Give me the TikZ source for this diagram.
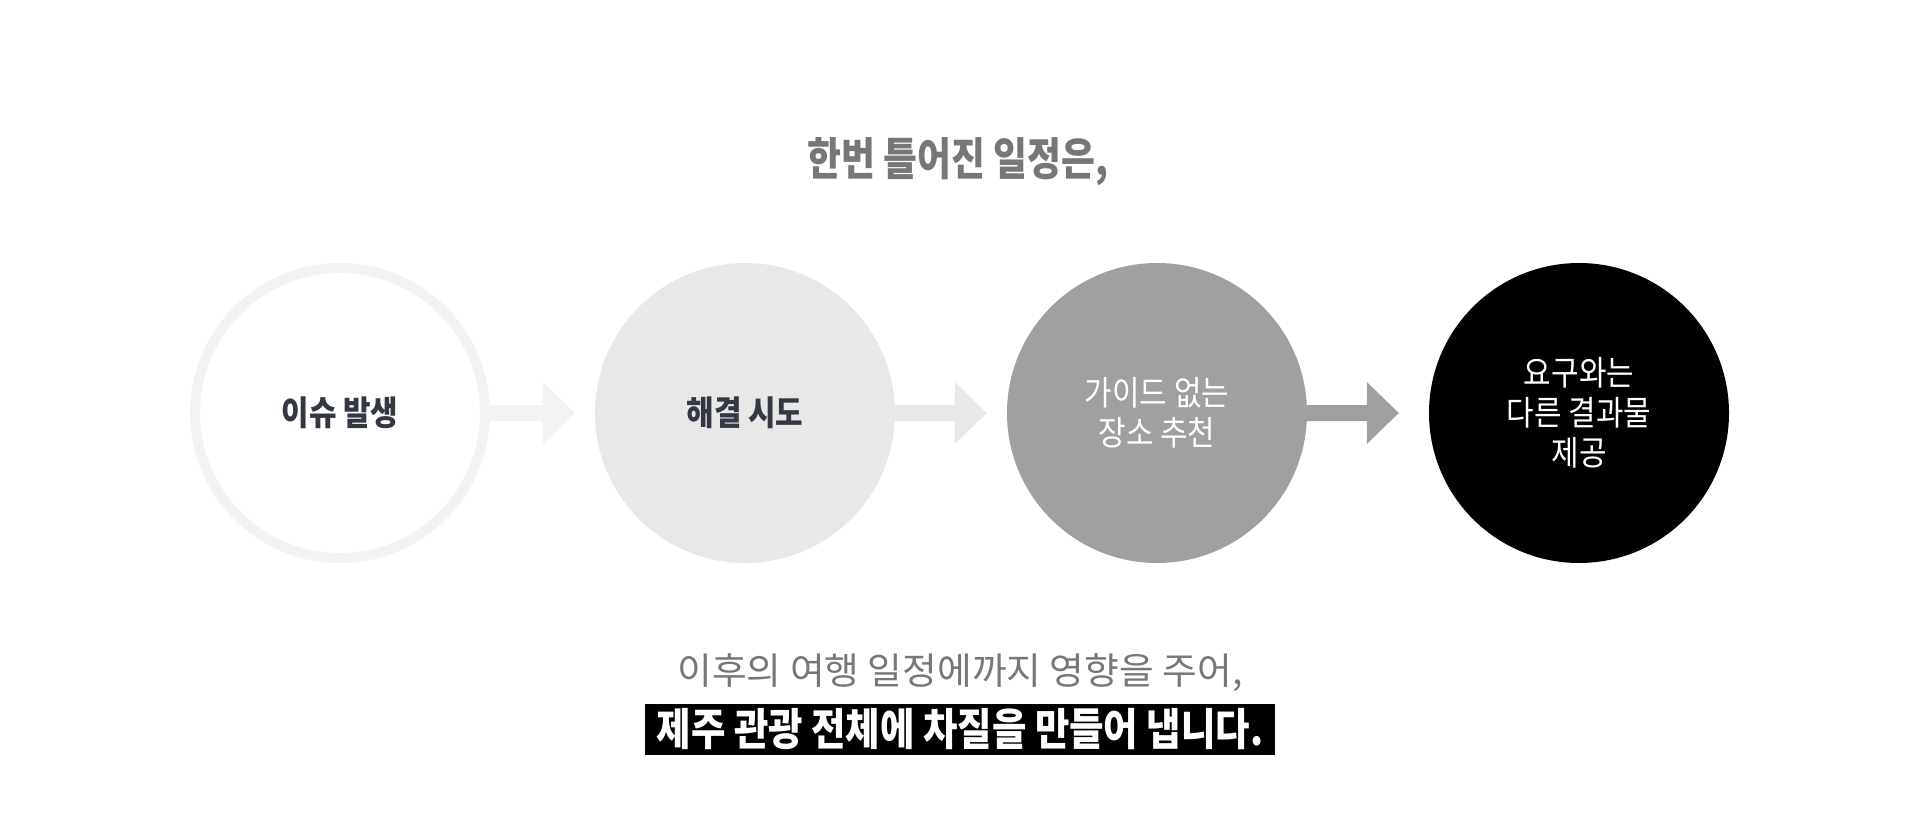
\documentclass[tikz,border=0pt]{standalone}
\usepackage{fontspec}
\setmainfont{Noto Sans CJK KR}[FakeStretch=0.88]
\newfontfamily\titulofont{Noto Sans CJK KR}[FakeStretch=0.82]
\newfontfamily\subfont{Noto Sans CJK KR}[FakeStretch=1.02]
\newfontfamily\fechofont{Noto Sans CJK KR}[FakeStretch=0.85]
\usetikzlibrary{calc}
\definecolor{anel}{HTML}{F3F3F3}
\definecolor{cinzaclaro}{HTML}{E8E8E8}
\definecolor{cinzamedio}{HTML}{A0A0A0}
\definecolor{textoesc}{HTML}{333842}
\definecolor{cinzatexto}{HTML}{777777}

\begin{document}
\begin{tikzpicture}[x=1pt,y=-1pt,
  etapa/.style={circle, minimum size=300pt, inner sep=0pt, align=center,
    font=\fontsize{34}{40}\selectfont}]
\useasboundingbox (0,0) rectangle (1920,826);
\node[font=\titulofont\bfseries\fontsize{45}{50}\selectfont, text=cinzatexto]
  (titulo) at (958,162) {한번 틀어진 일정은,};
\node[etapa, minimum size=290pt, draw=anel, line width=10pt, fill=white, text=textoesc,
  font=\bfseries\fontsize{34}{40}\selectfont] (c1) at (340,413) {이슈 발생};
\node[etapa, fill=cinzaclaro, text=textoesc, font=\bfseries\fontsize{34}{40}\selectfont]
  (c2) at (745,413) {해결 시도};
\node[etapa, fill=cinzamedio, text=white] (c3) at (1157,413) {가이드 없는\\장소 추천};
\node[etapa, fill=black, text=white] (c4) at (1579,413) {요구와는\\다른 결과물\\제공};
\foreach \a/\b/\cor/\folga in {c1/c2/anel/20, c2/c3/cinzaclaro/20, c3/c4/cinzamedio/30}{
  \fill[\cor] ($(\a.east)+(0,-8)$) -- ($(\b.west)+(-\folga-32,-8)$) -- ++(0,-23)
    -- ++(32,31) -- ++(-32,31) -- ++(0,-23) -- ($(\a.east)+(0,8)$) -- cycle;
}
\node[font=\subfont\fontsize{37}{40}\selectfont, text=cinzatexto] (sub) at (960,673)
  {이후의 여행 일정에까지 영향을 주어,};
\node[fill=black, text=white, minimum width=630pt, minimum height=51pt, inner sep=0pt,
  font=\fechofont\bfseries\fontsize{44}{48}\selectfont] (fecho) at (960,729.5)
  {제주 관광 전체에 차질을 만들어 냅니다.};
\end{tikzpicture}
\end{document}
